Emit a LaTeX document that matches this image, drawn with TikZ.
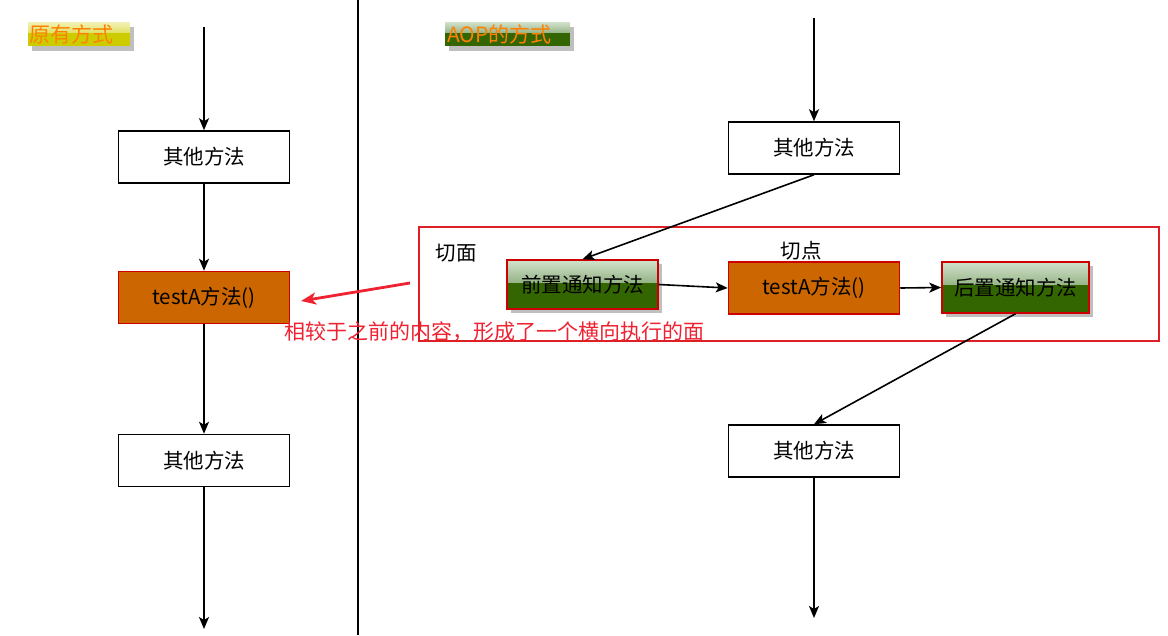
\documentclass[tikz,border=0pt]{standalone}
\usepackage{fontspec}
\setmainfont{Noto Sans CJK SC}
\usetikzlibrary{arrows.meta,shadows,calc}
\definecolor{orangebox}{HTML}{CC6600}
\definecolor{boxred}{HTML}{CC0000}
\definecolor{greenbox}{HTML}{336600}
\definecolor{greenlight}{HTML}{D2E2CC}
\definecolor{greenmid}{HTML}{4E7E34}
\definecolor{yellowbox}{HTML}{CCCC00}
\definecolor{yellowlight}{HTML}{F2F2B8}
\definecolor{framered}{HTML}{DD1F26}
\definecolor{annred}{HTML}{EE2230}
\definecolor{titleorange}{HTML}{FF8000}
\begin{document}
\begin{tikzpicture}[x=1pt,y=-1pt,
  font=\fontsize{20.5}{24}\selectfont,
  plainbox/.style={draw=black, line width=1.5pt, fill=white, minimum width=171pt, minimum height=52pt, inner sep=0pt},
  corebox/.style={draw=boxred, line width=1.5pt, fill=orangebox, minimum width=171pt, minimum height=52pt, inner sep=0pt},
  glass/.style 2 args={path picture={\fill[top color=#1, bottom color=#2]
      (path picture bounding box.north west) rectangle
      ($(path picture bounding box.north east)!0.45!(path picture bounding box.south east)$);}},
  advicebox/.style={draw=boxred, line width=1.5pt, fill=greenbox, inner sep=0pt,
      drop shadow={fill=black!25, opacity=1, shadow xshift=4pt, shadow yshift=-4pt},
      glass={greenlight}{greenmid}},
  titlebox/.style={fill=#1, inner xsep=2pt, inner ysep=0pt, minimum height=24pt, align=left,
      text=titleorange, font=\fontsize{21}{22}\selectfont,
      drop shadow={fill=black!25, opacity=1, shadow xshift=4pt, shadow yshift=-5pt}},
  arr/.style={-{Stealth[length=12pt,width=10pt,inset=3pt]}, line width=1.6pt},
  redarr/.style={-{Stealth[length=15pt,width=12pt,inset=4pt]}, line width=2.8pt, draw=annred},
  lbl/.style={inner sep=0pt}
]
\useasboundingbox (0,0) rectangle (1168,635);

% divider
\coordinate (divtop) at (358,0);
\coordinate (divbot) at (358,635);
\draw[line width=1.6pt] (divtop) -- (divbot);

% titles
\node[titlebox=yellowbox, glass={yellowlight}{yellowbox}, text width=98pt] (t1) at (79,34) {原有方式};
\node[titlebox=greenbox, glass={greenlight}{greenmid}, text width=121pt] (t2) at (507.5,34) {AOP的方式};

% aspect frame
\node[draw=framered, line width=1.5pt, minimum width=740pt, minimum height=114pt, inner sep=0pt] (aspect) at (789,284) {};
\node[lbl] (qm) at (456,253) {切面};
\node[lbl] (qd) at (801,251) {切点};

% left column
\coordinate (Ltop) at (204,27);
\node[plainbox] (L1) at (204,157) {其他方法};
\node[corebox] (L2) at (204,297.5) {testA方法()};
\node[plainbox] (L3) at (204,460.5) {其他方法};
\coordinate (Lbot) at (204,629);

\draw[arr] (Ltop) -- (L1.north);
\draw[arr] (L1) -- (L2);
\draw[arr] (L2) -- (L3);
\draw[arr] (L3.south) -- (Lbot);

% right column
\coordinate (Rtop) at (814,18);
\node[plainbox] (R1) at (814,148) {其他方法};
\node[advicebox, minimum width=151pt, minimum height=49pt] (pre) at (582.5,284.5) {前置通知方法};
\node[corebox] (R2) at (814,288) {testA方法()};
\node[advicebox, minimum width=147pt, minimum height=51pt] (post) at (1015.5,287.5) {后置通知方法};
\node[plainbox] (R3) at (814,451) {其他方法};
\coordinate (Rbot) at (814,618);

\draw[arr] (Rtop) -- (R1.north);
\draw[arr] (R1.south) -- (pre.north);
\draw[arr] (pre.east) -- (R2.west);
\draw[arr] (R2.east) -- (post.west);
\draw[arr] (post.south) -- (R3.north);
\draw[arr] (R3.south) -- (Rbot);

% annotation
\coordinate (annstart) at (410,283);
\coordinate (anntip) at (301,301);
\draw[redarr] (annstart) -- (anntip);
\node[lbl, text=annred, font=\fontsize{21}{24}\selectfont] (anntext) at (494,332) {相较于之前的内容，形成了一个横向执行的面};
\end{tikzpicture}
\end{document}
